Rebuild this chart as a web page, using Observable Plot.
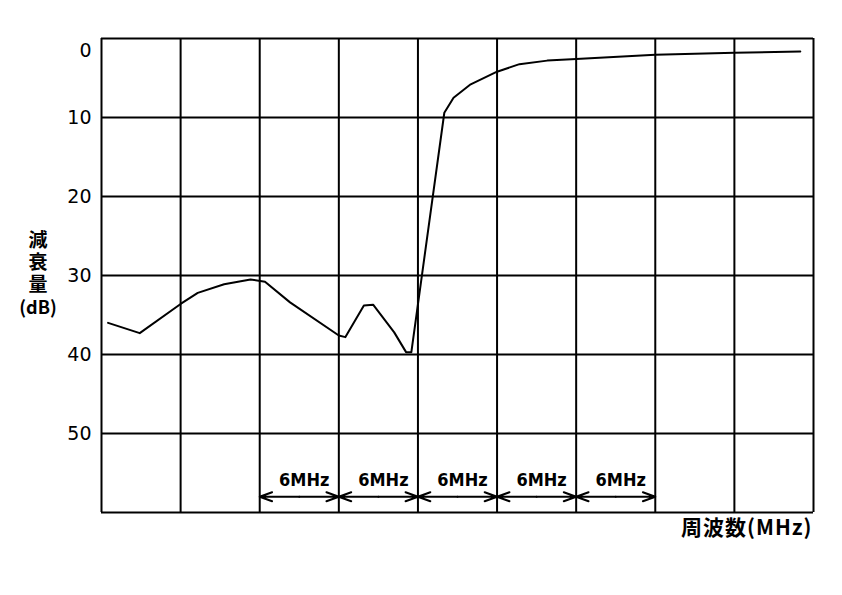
<!DOCTYPE html>
<html><head><meta charset="utf-8">
<script src="https://cdn.jsdelivr.net/npm/d3@7"></script>
<script src="https://cdn.jsdelivr.net/npm/@observablehq/plot@0.6"></script>
<style>body{margin:0;background:#fff} .xt{letter-spacing:1px} .vt text{writing-mode:vertical-rl;text-orientation:upright;letter-spacing:3px}</style>
</head><body><div id="chart"></div>
<script>
// Frequency axis in MHz (each grid column = 6 MHz), attenuation in dB
const freq  = [0.5, 2.9, 6.0, 7.3, 9.3, 11.3, 12.4, 14.3, 18.0, 18.5, 19.9, 20.6, 22.2, 23.1, 23.5, 26.0, 26.7, 28.0, 30.0, 31.7, 33.8, 36.0, 42.0, 48.0, 53.0];
const atten = [36.0, 37.3, 33.6, 32.2, 31.1, 30.5, 30.8, 33.4, 37.6, 37.8, 33.8, 33.7, 37.2, 39.7, 39.7, 9.4, 7.5, 5.8, 4.2, 3.25, 2.8, 2.6, 2.05, 1.8, 1.65];
const yTicks = [0, 10, 20, 30, 40, 50, 60];
const yLabels = [10, 20, 30, 40, 50];
const yLabelTop = [0];
const xGrid = [0, 6, 12, 18, 24, 30, 36, 42, 48, 54];
const bandStart = [12, 18, 24, 30, 36];
const bandEnd   = [18, 24, 30, 36, 42];
const bandLabel = "6MHz";
const yTitle = "減衰量";
const yUnit = "(dB)";
const xTitle = "周波数(MHz)";

const curve = freq.map((f, i) => ({f, a: atten[i]}));
const bands = bandStart.map((s, i) => ({s, e: bandEnd[i], m: (s + bandEnd[i]) / 2}));

const cjk = "'Noto Sans CJK JP', 'Noto Sans', sans-serif";
const num = "'DejaVu Sans', sans-serif";
const narrow = "'DejaVu Sans Condensed', 'Liberation Sans Narrow', sans-serif";

const chart = Plot.plot({
  width: 842, height: 595,
  marginLeft: 101, marginTop: 38, marginRight: 29, marginBottom: 83,
  x: {domain: [0, 54], axis: null},
  y: {domain: [0, 60], reverse: true, axis: null},
  style: {background: "#fff", color: "#000"},
  marks: [
    Plot.ruleX(xGrid, {stroke: "#000", strokeWidth: 2}),
    Plot.ruleY(yTicks, {stroke: "#000", strokeWidth: 2}),
    Plot.text(yLabels, {y: d => d, frameAnchor: "left", dx: -10, textAnchor: "end", text: d => String(d), fontSize: 19, fontFamily: num, fill: "#000"}),
    Plot.text(yLabelTop, {y: d => d, frameAnchor: "left", dx: -10, dy: 12, textAnchor: "end", text: d => String(d), fontSize: 19, fontFamily: num, fill: "#000"}),
    Plot.line(curve, {x: "f", y: "a", stroke: "#000", strokeWidth: 2, curve: "linear"}),
    Plot.arrow(bands, {x1: "m", x2: "s", y1: () => 58, y2: () => 58, stroke: "#000", strokeWidth: 2, headLength: 13, headAngle: 40}),
    Plot.arrow(bands, {x1: "m", x2: "e", y1: () => 58, y2: () => 58, stroke: "#000", strokeWidth: 2, headLength: 13, headAngle: 40}),
    Plot.text(bands, {x: "m", y: () => 55.9, text: () => bandLabel, dx: 5, fontSize: 18, fontWeight: "bold", fontFamily: narrow, fill: "#000"}),
    Plot.text([yTitle], {frameAnchor: "left", dx: -63.5, dy: -26, text: d => d, textAnchor: "middle", lineAnchor: "top", fontSize: 19, fontWeight: "bold", fontFamily: cjk, fill: "#000", className: "vt"}),
    Plot.text([yUnit], {frameAnchor: "left", dx: -63.5, dy: 33, text: d => d, textAnchor: "middle", lineAnchor: "middle", fontSize: 18, fontWeight: "bold", fontFamily: cjk, fill: "#000"}),
    Plot.text([xTitle], {frameAnchor: "bottom-right", dx: -1, dy: 16, textAnchor: "end", lineAnchor: "middle", fontSize: 21, fontWeight: "bold", fontFamily: cjk, fill: "#000", text: d => d, className: "xt"})
  ]
});
document.getElementById("chart").appendChild(chart);
</script>
</body></html>
